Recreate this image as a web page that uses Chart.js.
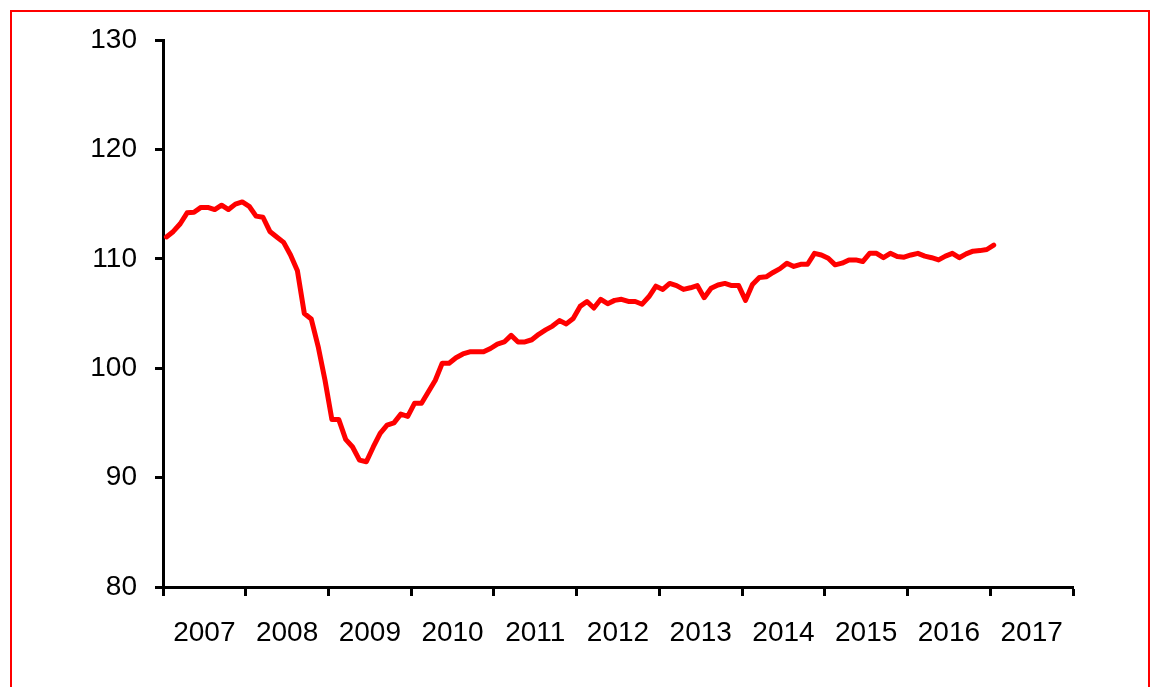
<!DOCTYPE html>
<html>
<head>
<meta charset="utf-8">
<script src="https://cdn.jsdelivr.net/npm/chart.js@4"></script>
<style>
  body { margin: 0; background: #fff; overflow: hidden; }
  #frame { position: absolute; left: 10px; top: 10px; width: 1136px; height: 800px; border: 2px solid #ff0000; }
  #myChart { position: absolute; left: 0; top: 0; }
</style>
</head>
<body>
<div id="frame"></div>
<canvas id="myChart" width="1152" height="687"></canvas>
<script>
// year labels under the x axis
var years = ['2007', '2008', '2009', '2010', '2011', '2012', '2013', '2014', '2015', '2016', '2017'];
var yTicks = [80, 90, 100, 110, 120, 130];

// monthly index, Jan 2007 .. Jan 2017
var values = [
    112.0, 112.5, 113.2, 114.2, 114.25, 114.7, 114.7, 114.5, 114.9, 114.5, 115.0, 115.2,
    114.8, 113.9, 113.8, 112.5, 112.0, 111.5, 110.35, 108.9, 105.0, 104.5, 102.0, 98.9,
    95.3, 95.3, 93.5, 92.8, 91.6, 91.45, 92.8, 94.05, 94.8, 95.0, 95.8, 95.6,
    96.8, 96.8, 97.85, 98.9, 100.45, 100.45, 100.96, 101.3, 101.5, 101.5, 101.5, 101.8,
    102.2, 102.4, 103.0, 102.4, 102.4, 102.6, 103.1, 103.5, 103.85, 104.35, 104.05, 104.55,
    105.65, 106.1, 105.5, 106.3, 105.9, 106.2, 106.3, 106.1, 106.1, 105.85, 106.55, 107.5,
    107.2, 107.75, 107.55, 107.2, 107.35, 107.55, 106.45, 107.3, 107.6, 107.75, 107.55, 107.55,
    106.2, 107.65, 108.3, 108.35, 108.75, 109.1, 109.6, 109.3, 109.5, 109.5, 110.5, 110.35,
    110.05, 109.45, 109.6, 109.9, 109.9, 109.75, 110.5, 110.5, 110.1, 110.5, 110.2, 110.15,
    110.35, 110.5, 110.25, 110.1, 109.9, 110.25, 110.5, 110.1, 110.45, 110.7, 110.75, 110.85,
    111.25
];

var points = values.map(function(v, i) {
    return { x: i + 0.5, y: v };   // middle of each month
});

var font = { family: "'Liberation Sans', Arial, sans-serif", size: 28 };

var ctx = document.getElementById('myChart').getContext('2d');
var chart = new Chart(ctx, {
    type: 'line',
    data: {
        datasets: [{
            data: points,
            borderColor: '#ff0000',
            borderWidth: 5,
            pointRadius: 0,
            tension: 0,
            borderJoinStyle: 'round',
            borderCapStyle: 'round',
            fill: false
        }]
    },
    options: {
        responsive: false,
        animation: false,
        layout: { padding: { top: 40, right: 79, left: 0, bottom: 0 } },
        plugins: { legend: { display: false }, tooltip: { enabled: false } },
        scales: {
            x: {
                type: 'linear',
                min: 0,
                max: years.length * 12,
                afterFit: function(scale) { scale.height = 100; },
                border: { color: '#000', width: 3 },
                grid: {
                    drawOnChartArea: false,
                    tickLength: 9,
                    tickWidth: 3,
                    tickColor: function(c) {
                        return c.tick && c.tick.value % 12 === 0 ? '#000' : 'rgba(0,0,0,0)';
                    }
                },
                ticks: {
                    stepSize: 6,
                    autoSkip: false,
                    maxRotation: 0,
                    padding: 20,
                    color: '#000',
                    font: font,
                    callback: function(v) {
                        return v % 12 === 6 ? years[(v - 6) / 12] : '';
                    }
                }
            },
            y: {
                min: yTicks[0],
                max: yTicks[yTicks.length - 1],
                afterFit: function(scale) { scale.width = 163; },
                border: { color: '#000', width: 3 },
                grid: {
                    drawOnChartArea: false,
                    tickLength: 8,
                    tickWidth: 3,
                    tickColor: '#000'
                },
                ticks: {
                    stepSize: 10,
                    padding: 18,
                    color: '#000',
                    font: font
                }
            }
        }
    }
});
</script>
</body>
</html>
